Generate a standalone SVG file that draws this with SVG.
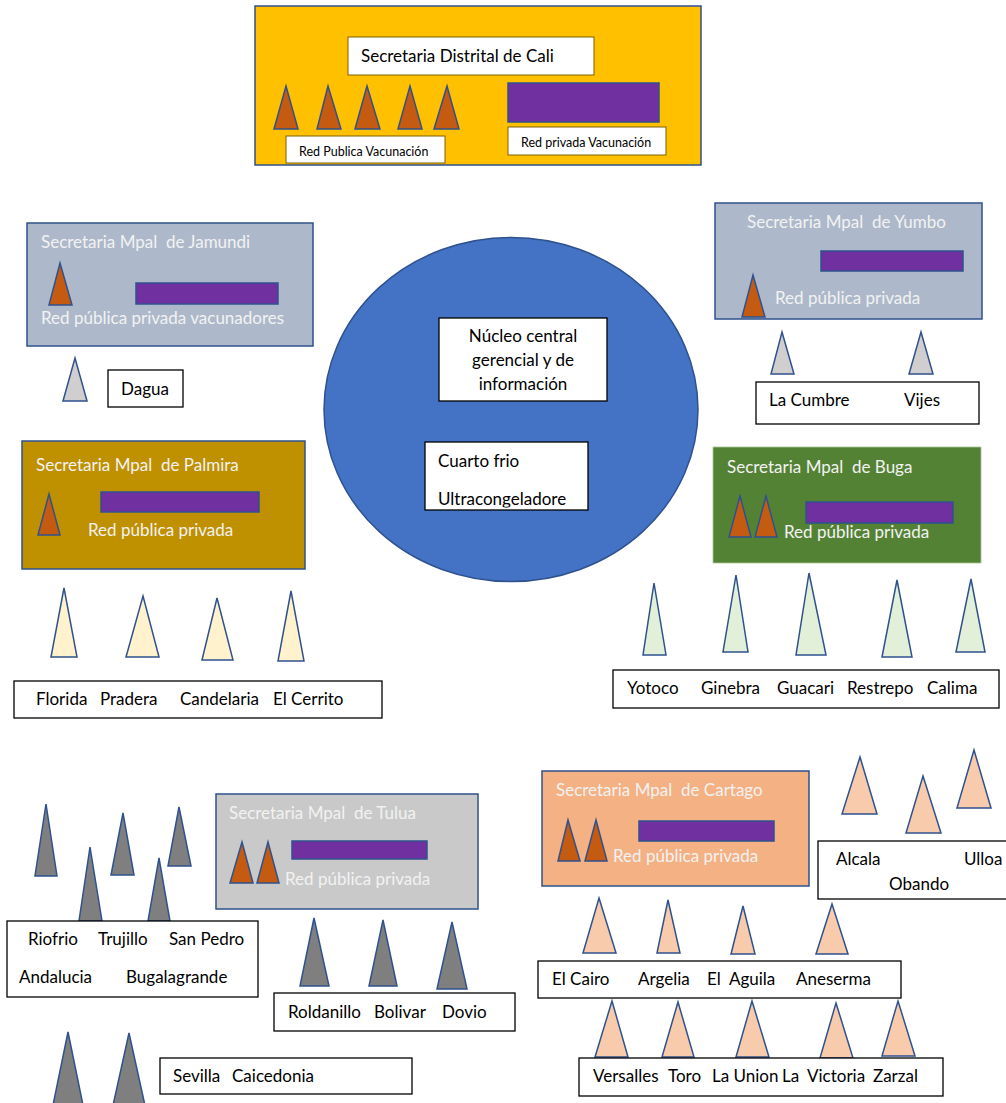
<svg xmlns="http://www.w3.org/2000/svg" width="1006" height="1103" viewBox="0 0 1006 1103">
  <style>
    text { font-family: Lato, "Open Sans", "Liberation Sans", sans-serif; font-size: 17px; fill: #000; white-space: pre; }
    .lbl { fill: #fff; stroke: #000; stroke-width: 1.3; }
    .lblo { fill: #fff; stroke: #7f6000; stroke-width: 1; }
    .area { stroke: #2F528F; stroke-width: 1.5; }
    .bar { fill: #7030A0; stroke: #2F528F; stroke-width: 1.5; }
    .tri { stroke: #2F528F; stroke-width: 1.5; stroke-linejoin: miter; }
    .org { fill: #C55A11; }
    .gry { fill: #D0CECE; }
    .crm { fill: #FFF2CC; }
    .grn { fill: #E2F0D9; }
    .dk { fill: #7F7F7F; }
    .pch { fill: #F8CBAD; }
    .wt { fill: #F2F2F2; }
    .sm { font-size: 12.5px; }
  </style>
  <defs>
    <clipPath id="coldClip">
      <rect x="425" y="442" width="163" height="65.5"/>
    </clipPath>
  </defs>

  <!-- Cali district office -->
  <g id="cali">
    <rect class="area" x="255" y="6" width="446" height="159" fill="#FFC000"/>
    <rect class="lblo" x="348" y="37" width="246" height="38"/>
    <text x="361" y="62">Secretaria Distrital de Cali</text>
    <polygon class="tri org" points="286,86 298,129 274,129"/>
    <polygon class="tri org" points="328,86 341,129 317,129"/>
    <polygon class="tri org" points="367,86 380,129 355,129"/>
    <polygon class="tri org" points="410,86 422,129 398,129"/>
    <polygon class="tri org" points="447,86 459,129 434,129"/>
    <rect class="bar" x="508" y="83" width="151" height="39"/>
    <rect class="lblo" x="286" y="136" width="159" height="27"/>
    <text class="sm" x="299" y="156">Red Publica Vacunación</text>
    <rect class="lblo" x="508" y="127" width="158" height="28"/>
    <text class="sm" x="521" y="147">Red privada Vacunación</text>
  </g>

  <!-- Central core -->
  <g id="nucleo">
    <ellipse cx="511" cy="409.5" rx="187" ry="172" fill="#4472C4" stroke="#2F528F" stroke-width="1.5"/>
    <rect class="lbl" x="439" y="318" width="168" height="83" stroke-width="1"/>
    <text x="523" y="342" text-anchor="middle">Núcleo central</text>
    <text x="523" y="366" text-anchor="middle">gerencial y de</text>
    <text x="523" y="390" text-anchor="middle">información</text>
  </g>
  <g id="cuarto-frio">
    <rect class="lbl" x="425" y="442" width="163" height="68" stroke-width="1"/>
    <text x="438" y="467">Cuarto frio</text>
    <text x="438" y="505" clip-path="url(#coldClip)">Ultracongeladore</text>
  </g>

  <!-- Jamundi -->
  <g id="jamundi">
    <rect class="area" x="27" y="223" width="286" height="123" fill="#ADB9CA"/>
    <text class="wt" x="41" y="248">Secretaria Mpal  de Jamundi</text>
    <polygon class="tri org" points="60,263 72,305 49,305"/>
    <rect class="bar" x="136" y="283" width="142" height="21"/>
    <text class="wt" x="41" y="324">Red pública privada vacunadores</text>
  </g>
  <g id="dagua">
    <polygon class="tri gry" points="75,358 87,401 63,401"/>
    <rect class="lbl" x="108" y="370" width="75" height="37"/>
    <text x="121" y="395">Dagua</text>
  </g>

  <!-- Yumbo -->
  <g id="yumbo">
    <rect class="area" x="715" y="203" width="267" height="116" fill="#ADB9CA"/>
    <text class="wt" x="747" y="228">Secretaria Mpal  de Yumbo</text>
    <rect class="bar" x="821" y="251" width="142" height="20"/>
    <polygon class="tri org" points="753,275 765,317 742,317"/>
    <text class="wt" x="775" y="304">Red pública privada</text>
  </g>
  <g id="yumbo-municipios">
    <polygon class="tri gry" points="782,332 794,374 771,374"/>
    <polygon class="tri gry" points="921,332 933,374 909,374"/>
    <rect class="lbl" x="756" y="382" width="223" height="42"/>
    <text x="769" y="406">La Cumbre</text>
    <text x="904" y="406">Vijes</text>
  </g>

  <!-- Palmira -->
  <g id="palmira">
    <rect class="area" x="22" y="441" width="283" height="128" fill="#BF9000"/>
    <text class="wt" x="36" y="471">Secretaria Mpal  de Palmira</text>
    <polygon class="tri org" points="49,494 60,535 38,535"/>
    <rect class="bar" x="101" y="492" width="158" height="20"/>
    <text class="wt" x="88" y="536">Red pública privada</text>
  </g>
  <g id="palmira-municipios">
    <polygon class="tri crm" points="64,588 77,657 51,657"/>
    <polygon class="tri crm" points="143,596 159,657 126,657"/>
    <polygon class="tri crm" points="217,598 233,660 202,660"/>
    <polygon class="tri crm" points="291,591 304,661 278,661"/>
    <rect class="lbl" x="14" y="681" width="368" height="37"/>
    <text x="36" y="705">Florida</text>
    <text x="100" y="705">Pradera</text>
    <text x="180" y="705">Candelaria</text>
    <text x="273" y="705">El Cerrito</text>
  </g>

  <!-- Buga -->
  <g id="buga">
    <rect x="713" y="447" width="268" height="116" fill="#548235" stroke="#A9C59A" stroke-width="0.8"/>
    <text class="wt" x="727" y="473">Secretaria Mpal  de Buga</text>
    <polygon class="tri org" points="740,496 751,537 729,537"/>
    <polygon class="tri org" points="766,496 777,537 755,537"/>
    <rect class="bar" x="806" y="502" width="147" height="21"/>
    <text class="wt" x="784" y="538">Red pública privada</text>
  </g>
  <g id="buga-municipios">
    <polygon class="tri grn" points="654,583 666,655 643,655"/>
    <polygon class="tri grn" points="736,575 748,652 723,652"/>
    <polygon class="tri grn" points="809,573 826,655 796,655"/>
    <polygon class="tri grn" points="897,580 912,657 882,657"/>
    <polygon class="tri grn" points="971,579 985,652 956,652"/>
    <rect class="lbl" x="613" y="670" width="386" height="38"/>
    <text x="627" y="694">Yotoco</text>
    <text x="701" y="694">Ginebra</text>
    <text x="777" y="694">Guacari</text>
    <text x="847" y="694">Restrepo</text>
    <text x="927" y="694">Calima</text>
  </g>

  <!-- Tulua -->
  <g id="tulua">
    <rect class="area" x="216" y="794" width="262" height="115" fill="#C9C9C9"/>
    <text class="wt" x="229" y="819">Secretaria Mpal  de Tulua</text>
    <polygon class="tri org" points="242,842 253,883 230,883"/>
    <polygon class="tri org" points="268,842 279,883 257,883"/>
    <rect class="bar" x="292" y="841" width="135" height="18"/>
    <text class="wt" x="285" y="885">Red pública privada</text>
  </g>
  <g id="tulua-norte">
    <polygon class="tri dk" points="46,804 57,876 35,876"/>
    <polygon class="tri dk" points="123,813 134,875 111,875"/>
    <polygon class="tri dk" points="179,807 191,866 168,866"/>
    <polygon class="tri dk" points="90,847 102,921 79,921"/>
    <polygon class="tri dk" points="159,858 170,921 148,921"/>
    <rect class="lbl" x="7" y="921" width="251" height="76"/>
    <text x="28" y="945">Riofrio</text>
    <text x="98" y="945">Trujillo</text>
    <text x="169" y="945">San Pedro</text>
    <text x="19" y="983">Andalucia</text>
    <text x="126" y="983">Bugalagrande</text>
  </g>
  <g id="tulua-occidente">
    <polygon class="tri dk" points="314,918 329,986 300,986"/>
    <polygon class="tri dk" points="383,920 397,986 369,986"/>
    <polygon class="tri dk" points="452,922 467,989 437,989"/>
    <rect class="lbl" x="274" y="993" width="241" height="38"/>
    <text x="288" y="1018">Roldanillo</text>
    <text x="374" y="1018">Bolivar</text>
    <text x="442" y="1018">Dovio</text>
  </g>
  <g id="tulua-sur">
    <polygon class="tri dk" points="68,1032 84,1110 52,1110"/>
    <polygon class="tri dk" points="129,1033 146,1110 112,1110"/>
    <rect class="lbl" x="160" y="1058" width="252" height="36"/>
    <text x="173" y="1082">Sevilla</text>
    <text x="232" y="1082">Caicedonia</text>
  </g>

  <!-- Cartago -->
  <g id="cartago">
    <rect class="area" x="542" y="771" width="267" height="115" fill="#F4B183"/>
    <text class="wt" x="556" y="796">Secretaria Mpal  de Cartago</text>
    <polygon class="tri org" points="568,820 580,861 558,861"/>
    <polygon class="tri org" points="596,820 607,861 585,861"/>
    <rect class="bar" x="639" y="821" width="135" height="20"/>
    <text class="wt" x="613" y="862">Red pública privada</text>
  </g>
  <g id="cartago-norte">
    <polygon class="tri pch" points="860,757 877,814 842,814"/>
    <polygon class="tri pch" points="923,776 941,833 906,833"/>
    <polygon class="tri pch" points="974,750 991,808 957,808"/>
    <rect class="lbl" x="818" y="841" width="200" height="58"/>
    <text x="836" y="865">Alcala</text>
    <text x="964" y="865">Ulloa</text>
    <text x="889" y="890">Obando</text>
  </g>
  <g id="cartago-centro">
    <polygon class="tri pch" points="599,898 616,953 583,953"/>
    <polygon class="tri pch" points="668,900 680,953 657,953"/>
    <polygon class="tri pch" points="743,906 755,954 731,954"/>
    <polygon class="tri pch" points="832,904 848,954 816,954"/>
    <rect class="lbl" x="538" y="961" width="363" height="37"/>
    <text x="552" y="985">El Cairo</text>
    <text x="638" y="985">Argelia</text>
    <text x="707" y="985">El  Aguila</text>
    <text x="796" y="985">Aneserma</text>
  </g>
  <g id="cartago-sur">
    <polygon class="tri pch" points="612,1001 628,1057 595,1057"/>
    <polygon class="tri pch" points="678,1002 694,1057 662,1057"/>
    <polygon class="tri pch" points="752,1001 769,1057 736,1057"/>
    <polygon class="tri pch" points="836,1003 853,1058 820,1058"/>
    <polygon class="tri pch" points="898,1001 915,1056 882,1056"/>
    <rect class="lbl" x="579" y="1058" width="364" height="38"/>
    <text x="593" y="1082">Versalles</text>
    <text x="668" y="1082">Toro</text>
    <text x="712" y="1082">La Union</text>
    <text x="782" y="1082">La</text>
    <text x="807" y="1082">Victoria</text>
    <text x="873" y="1082">Zarzal</text>
  </g>
</svg>
